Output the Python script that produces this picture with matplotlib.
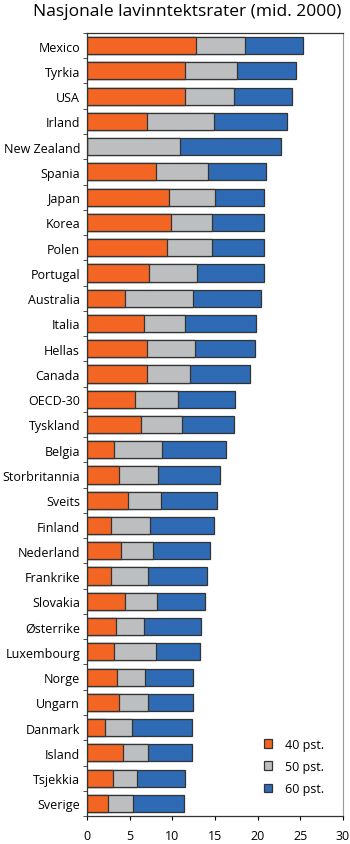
import matplotlib.pyplot as plt
import numpy as np

plt.rcParams['font.family'] = ['Open Sans', 'DejaVu Sans']

land = ["Mexico", "Tyrkia", "USA", "Irland", "New Zealand", "Spania", "Japan",
        "Korea", "Polen", "Portugal", "Australia", "Italia", "Hellas", "Canada",
        "OECD-30", "Tyskland", "Belgia", "Storbritannia", "Sveits", "Finland",
        "Nederland", "Frankrike", "Slovakia", "Østerrike", "Luxembourg", "Norge",
        "Ungarn", "Danmark", "Island", "Tsjekkia", "Sverige"]

# lavinntektsrater, prosent, ved grense 40, 50 og 60 pst. av median
pst40 = [12.8, 11.5, 11.5, 7.0, 0.0, 8.1, 9.6, 9.8, 9.4, 7.3, 4.5, 6.7, 7.0, 7.0,
         5.6, 6.3, 3.2, 3.75, 4.8, 2.8, 4.0, 2.8, 4.5, 3.4, 3.2, 3.5, 3.8, 2.1,
         4.25, 3.0, 2.46]
pst50 = [18.5, 17.6, 17.2, 14.9, 10.85, 14.2, 15.0, 14.6, 14.6, 12.9, 12.4, 11.5,
         12.7, 12.1, 10.7, 11.1, 8.8, 8.3, 8.7, 7.4, 7.7, 7.1, 8.2, 6.7, 8.1, 6.8,
         7.1, 5.3, 7.1, 5.85, 5.4]
pst60 = [25.3, 24.5, 24.0, 23.4, 22.7, 21.0, 20.8, 20.8, 20.8, 20.7, 20.4, 19.8,
         19.7, 19.1, 17.4, 17.2, 16.3, 15.6, 15.2, 14.9, 14.4, 14.05, 13.8, 13.35,
         13.3, 12.4, 12.4, 12.3, 12.3, 11.5, 11.4]

orange = "#F26522"
grey = "#BCBEC0"
blue = "#2E6BB4"

fig = plt.figure(figsize=(3.5, 8.45), dpi=100)
ax = fig.add_axes([0.2486, 0.0331, 0.98 - 0.2486, 0.9598 - 0.0331])

y = np.arange(len(land))
h = 0.68
kw = dict(height=h, edgecolor="#333333", linewidth=0.9)
ax.barh(y, pst60, color=blue, label="60 pst.", **kw)
ax.barh(y, pst50, color=grey, label="50 pst.", **kw)
ax.barh(y, pst40, color=orange, label="40 pst.", **kw)

ax.set_ylim(len(land) - 0.5, -0.5)
ax.set_xlim(0, 30)
ax.set_xticks(range(0, 31, 5))
ax.set_yticks(y)
ax.set_yticklabels(land)
ax.set_yticks(np.arange(-0.5, len(land), 1), minor=True)
ax.tick_params(axis="y", which="major", length=0, pad=5, labelsize=9)
ax.tick_params(axis="y", which="minor", length=3, direction="out", color="#333333")
ax.tick_params(axis="x", length=3, direction="out", labelsize=9, pad=6)

for s in ["top", "left", "bottom"]:
    ax.spines[s].set_color("#333333")
    ax.spines[s].set_linewidth(0.9)
ax.spines["right"].set_color("#999999")

handles, labels = ax.get_legend_handles_labels()
leg = ax.legend(handles[::-1], labels[::-1], loc="lower right",
                bbox_to_anchor=(0.97, 0.012), frameon=False, fontsize=9,
                handlelength=0.7, handleheight=0.7, labelspacing=0.75,
                handletextpad=1.0)

fig.text(0.535, 0.995, "Nasjonale lavinntektsrater (mid. 2000)", ha="center",
         va="top", fontsize=12.5)

fig.savefig("out.png", dpi=100)
